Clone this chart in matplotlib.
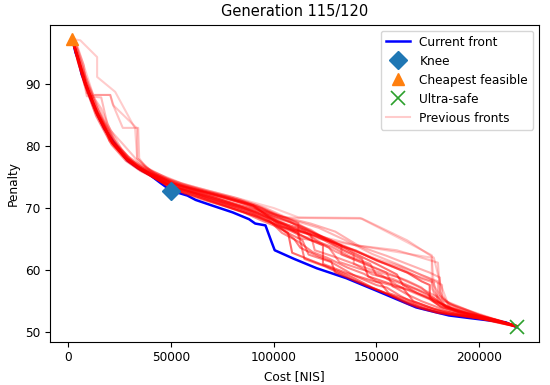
import matplotlib
matplotlib.use("Agg")
import matplotlib.pyplot as plt

# ---------------- data ----------------
current_cost = [1900, 3500, 4900, 6500, 8300, 11000, 14000, 17500, 22000, 28600, 34000, 39800, 45000,
                50000, 58000, 62000, 70000, 80000, 88000, 91000, 96000, 99000, 100500, 110000, 121000,
                135400, 150000, 160000, 169400, 178000, 185400, 195000, 205000, 213000, 218400]
current_pen = [97.2, 95.0, 93.8, 91.5, 90.0, 87.5, 85.2, 82.8, 80.6, 77.7, 76.4, 75.3, 74.0,
               72.8, 72.0, 71.3, 70.4, 69.3, 68.2, 67.5, 67.2, 64.5, 63.2, 61.8, 60.3,
               58.7, 56.7, 55.3, 54.0, 53.3, 52.7, 52.3, 51.9, 51.6, 50.8]

knee_cost, knee_pen = [50000], [72.8]
cheapest_cost, cheapest_pen = [1900], [97.2]
ultra_cost, ultra_pen = [218400], [50.8]

prev_front_01 = [(1900, 97.2), (5800, 97.0), (14000, 94.3), (14000, 91.1), (22800, 88.7), (32500, 82.8),
                 (33500, 78.0), (40000, 76.0), (50000, 74.5), (60000, 73.5), (80000, 71.8), (100000, 70.0),
                 (112000, 68.5), (142000, 68.4), (162000, 65.0), (177000, 62.4), (177000, 57.0),
                 (182000, 55.0), (200000, 52.8), (218400, 50.9)]
prev_front_02 = [(1900, 97.2), (4000, 96.5), (12100, 88.2), (20400, 88.2), (22000, 86.5), (33500, 82.8),
                 (33500, 78.0), (42000, 75.5), (55000, 73.6), (70000, 72.0), (90000, 70.5), (112600, 65.5),
                 (177000, 62.0), (178000, 57.5), (183000, 55.0), (200000, 52.8), (218400, 51.0)]
prev_front_03 = [(1900, 97.2), (4500, 95.5), (8000, 91.5), (12100, 88.2), (20400, 88.2), (21500, 86.8),
                 (26500, 82.9), (34000, 82.9), (34500, 78.0), (38000, 76.4), (50000, 74.0), (65000, 72.5),
                 (85000, 70.8), (105000, 68.5), (113000, 68.4), (143000, 68.3), (165000, 64.8),
                 (178000, 62.0), (181000, 58.0), (185000, 54.5), (205000, 52.2), (218400, 51.0)]
prev_front_04 = [(1900, 97.2), (3000, 97.0), (7500, 93.0), (9000, 88.5), (12000, 88.0), (16000, 86.0),
                 (20500, 82.5), (26000, 80.5), (34000, 77.5), (42000, 75.6), (52000, 74.0), (70000, 72.2),
                 (90000, 70.4), (110000, 66.5), (140000, 64.0), (160000, 63.2), (180000, 61.2),
                 (181000, 56.5), (186000, 54.0), (218400, 51.0)]
prev_front_05 = [(1900, 97.2), (4000, 96.0), (9000, 88.0), (16000, 87.8), (19000, 83.5), (26000, 79.4),
                 (33000, 77.0), (40000, 75.8), (48000, 74.6), (57000, 73.4), (68000, 72.4), (82000, 71.0),
                 (96000, 69.4), (108000, 67.0), (120000, 65.4), (135000, 63.8), (150000, 61.8),
                 (162000, 60.6), (175000, 58.8), (182000, 57.6), (182000, 55.4), (190000, 53.8), (218400, 51.0)]
prev_front_06 = [(1900, 97.2), (6000, 93.6), (10000, 89.6), (17000, 84.4), (24000, 80.0), (31000, 77.6),
                 (38000, 76.3), (46000, 75.2), (55000, 74.0), (68000, 72.8), (82000, 71.6), (96000, 70.0),
                 (108000, 68.2), (122000, 66.8), (135000, 64.8), (148000, 62.6), (160000, 61.0),
                 (172000, 59.2), (180000, 58.2), (180000, 56.0), (184000, 55.0), (200000, 52.8), (218400, 51.0)]
prev_front_07 = [(1900, 97.2), (5500, 93.8), (9500, 89.6), (16000, 84.6), (23500, 80.2), (30000, 77.8),
                 (36000, 76.2), (44000, 75.2), (54000, 73.9), (64000, 73.0), (78000, 71.8), (92000, 70.2),
                 (102000, 68.8), (118000, 67.5), (130000, 66.2), (142000, 63.8), (155000, 62.3),
                 (165000, 61.0), (176000, 59.6), (181000, 58.8), (181000, 56.0), (186000, 54.5),
                 (205000, 52.4), (218400, 51.0)]
prev_front_08 = [(1900, 97.2), (5000, 94.0), (8500, 90.5), (14500, 85.8), (22000, 81.0), (29000, 78.3),
                 (35000, 77.0), (41000, 76.0), (48000, 74.8), (56000, 73.8), (66000, 72.8), (80000, 71.6),
                 (92000, 70.4), (100000, 69.2), (110000, 67.8), (120000, 66.0), (132000, 64.2),
                 (142000, 62.8), (152000, 61.3), (162000, 60.0), (170000, 59.0), (177000, 58.3),
                 (178000, 56.2), (182000, 55.0), (184000, 54.0), (200000, 52.6), (218400, 51.0)]
prev_front_09 = [(1900, 97.2), (4900, 93.8), (8300, 90.0), (14000, 85.2), (21500, 80.6), (28600, 77.9),
                 (34000, 76.6), (40000, 75.5), (50000, 74.0), (60000, 73.0), (72000, 72.0), (85000, 71.0),
                 (95000, 69.8), (105000, 68.0), (118000, 66.5), (130000, 64.0), (140000, 63.2),
                 (150000, 61.5), (162000, 60.3), (172000, 58.6), (178000, 58.0), (180000, 55.0),
                 (190000, 53.2), (205000, 52.2), (218400, 51.0)]
prev_front_10 = [(1900, 97.2), (4500, 94.5), (8000, 90.6), (12500, 86.5), (18000, 83.0), (20000, 80.8),
                 (27000, 78.2), (34000, 76.6), (41000, 75.4), (50000, 74.2), (60000, 73.2), (72000, 72.2),
                 (84000, 71.2), (94000, 70.0), (104000, 68.4), (114000, 66.8), (124000, 65.3),
                 (134000, 63.4), (139000, 62.6), (139000, 61.0), (150000, 59.8), (160000, 58.9),
                 (170000, 57.4), (175000, 56.5), (180000, 55.6), (183000, 54.2), (198000, 52.8), (218400, 51.0)]
prev_front_11 = [(1900, 97.2), (5200, 93.5), (8800, 89.6), (15000, 84.6), (22500, 80.0), (30000, 77.4),
                 (36000, 76.0), (44000, 74.5), (52000, 73.3), (62000, 72.4), (75000, 71.0), (88000, 69.8),
                 (100000, 68.6), (112000, 67.3), (125000, 65.0), (133000, 64.0), (133000, 62.5),
                 (145000, 61.0), (155000, 59.6), (165000, 58.3), (172000, 57.2), (176000, 56.0),
                 (182000, 54.6), (195000, 52.9), (210000, 51.9), (218400, 51.0)]
prev_front_12 = [(1900, 97.2), (4600, 94.2), (7800, 90.4), (13200, 85.6), (20500, 81.0), (27500, 78.2),
                 (33500, 76.8), (40000, 75.6), (47000, 74.6), (54000, 73.6), (63000, 72.6), (74000, 71.4),
                 (84000, 70.4), (96000, 69.4), (106000, 68.4), (112000, 67.6), (112000, 65.2),
                 (122000, 64.6), (130000, 63.0), (140000, 61.6), (147000, 60.6), (155000, 59.6),
                 (158000, 57.4), (166000, 56.8), (174000, 55.8), (180000, 54.8), (190000, 53.4),
                 (208000, 52.0), (218400, 51.0)]
prev_front_13 = [(1900, 97.2), (4300, 94.0), (7600, 90.2), (13000, 85.5), (20000, 81.0), (27000, 78.4),
                 (33000, 76.8), (39000, 75.6), (46000, 74.4), (53000, 73.4), (64000, 72.3), (76000, 71.2),
                 (86000, 70.2), (98000, 69.0), (108000, 67.8), (118000, 65.8), (120000, 63.2),
                 (131000, 62.0), (140000, 60.9), (148000, 59.3), (158000, 58.6), (168000, 57.2),
                 (175000, 56.2), (178000, 55.0), (188000, 53.5), (205000, 52.3), (218400, 51.0)]
prev_front_14 = [(1900, 97.2), (5000, 93.2), (9000, 89.2), (15000, 84.5), (22000, 80.2), (29000, 77.5),
                 (36000, 75.9), (43000, 74.7), (51000, 73.4), (60000, 72.5), (70000, 71.5), (83000, 70.0),
                 (95000, 68.5), (106000, 66.6), (116000, 65.2), (127000, 63.6), (132000, 61.3),
                 (142000, 60.2), (152000, 59.3), (160000, 57.6), (168000, 56.4), (176000, 55.3),
                 (182000, 54.0), (200000, 52.4), (218400, 51.0)]
prev_front_15 = [(1900, 97.2), (4600, 93.6), (8000, 89.8), (13500, 84.8), (21000, 80.2), (28000, 77.6),
                 (35000, 76.0), (42000, 74.8), (50000, 73.5), (58000, 72.8), (68000, 71.6), (80000, 70.4),
                 (92000, 69.3), (104000, 67.4), (115000, 66.2), (122000, 64.5), (128000, 63.8),
                 (137000, 62.2), (147000, 61.0), (150000, 59.2), (160000, 58.1), (170000, 56.8),
                 (178000, 55.5), (184000, 54.0), (200000, 52.5), (218400, 50.9)]
prev_front_16 = [(1900, 97.2), (4700, 93.7), (8100, 90.0), (14000, 85.0), (21500, 80.5), (28600, 77.8),
                 (34500, 76.4), (41000, 75.0), (49000, 73.6), (58000, 72.6), (67000, 71.6), (77000, 70.6),
                 (87000, 69.6), (97000, 68.3), (104000, 66.0), (112000, 64.6), (119000, 62.9),
                 (126000, 62.0), (136000, 60.4), (144000, 59.4), (150000, 58.2), (157000, 57.6),
                 (165000, 56.1), (172000, 55.0), (180000, 54.0), (192000, 52.8), (208000, 52.0), (218400, 50.9)]
prev_front_17 = [(1900, 97.2), (4900, 93.8), (8300, 90.0), (14000, 85.2), (21500, 80.5), (28600, 77.8),
                 (34000, 76.5), (40000, 75.4), (50000, 73.6), (56000, 72.4), (66000, 71.3), (76000, 70.3),
                 (86000, 69.2), (94000, 68.0), (100000, 67.2), (108000, 65.8), (114000, 64.8),
                 (117000, 62.5), (128000, 61.3), (140000, 59.0), (150000, 57.6), (155000, 57.2),
                 (162000, 55.8), (170000, 54.4), (178000, 53.6), (190000, 52.9), (205000, 52.1), (218400, 50.9)]
prev_front_18 = [(1900, 97.2), (4900, 93.8), (8300, 90.0), (14000, 85.2), (21500, 80.4), (28600, 77.7),
                 (34000, 76.4), (40000, 75.2), (47000, 73.8), (55000, 72.6), (65000, 71.6), (78000, 70.2),
                 (90000, 68.8), (102000, 67.2), (112000, 66.0), (115000, 61.8), (125000, 60.6),
                 (135000, 59.0), (145000, 57.5), (155000, 56.2), (165000, 54.6), (172000, 53.8),
                 (180000, 53.1), (195000, 52.4), (210000, 51.8), (218400, 50.9)]
prev_front_19 = [(1900, 97.2), (4900, 93.8), (8300, 90.0), (14000, 85.2), (21500, 80.5), (28600, 77.8),
                 (34000, 76.5), (40000, 75.3), (50000, 73.4), (60000, 72.4), (70000, 71.2), (80000, 70.1),
                 (90000, 69.0), (98000, 67.8), (104000, 66.6), (110000, 65.0), (113000, 63.6),
                 (122000, 62.2), (128000, 61.4), (130000, 59.6), (140000, 58.2), (150000, 56.9),
                 (160000, 55.6), (166000, 54.8), (172000, 54.0), (180000, 53.2), (195000, 52.5),
                 (210000, 51.8), (218400, 50.9)]
prev_front_20 = [(1900, 97.2), (4700, 93.9), (8200, 90.1), (13800, 85.4), (21000, 80.7), (28000, 78.0),
                 (34000, 76.6), (40000, 75.5), (48000, 74.0), (58000, 72.8), (70000, 71.6), (84000, 70.2),
                 (96000, 68.6), (106000, 67.0), (118000, 64.8), (124000, 64.0), (124000, 61.0),
                 (135000, 59.6), (145000, 58.6), (152000, 57.9), (156000, 56.3), (165000, 55.3),
                 (175000, 54.1), (185000, 53.0), (200000, 52.3), (218400, 50.9)]
prev_front_21 = [(1900, 97.2), (4800, 93.8), (8300, 90.0), (14000, 85.3), (21500, 80.6), (28600, 77.9),
                 (34000, 76.6), (40000, 75.4), (50000, 73.8), (60000, 72.8), (72000, 71.6), (86000, 70.0),
                 (100000, 68.2), (110000, 66.6), (120000, 65.6), (135000, 63.0), (143000, 61.8),
                 (146000, 59.0), (155000, 58.0), (163000, 57.1), (168000, 55.0), (178000, 53.8),
                 (190000, 52.9), (218400, 50.9)]
prev_front_22 = [(1900, 97.2), (4900, 93.9), (8400, 90.2), (14200, 85.5), (21800, 80.8), (29000, 78.0),
                 (35000, 76.7), (42000, 75.4), (52000, 73.8), (62000, 72.9), (75000, 71.8), (90000, 70.2),
                 (102000, 67.8), (116000, 66.4), (128000, 64.8), (140000, 62.6), (150000, 61.0),
                 (160000, 59.3), (163000, 57.6), (170000, 56.3), (176000, 55.4), (181000, 54.2),
                 (195000, 52.7), (218400, 51.0)]
prev_front_23 = [(1900, 97.2), (4900, 93.8), (8300, 90.0), (14000, 85.2), (21500, 80.5), (28600, 77.8),
                 (34000, 76.4), (40000, 75.3), (50000, 73.2), (58000, 72.4), (68000, 71.2), (80000, 69.9),
                 (92000, 68.6), (100000, 67.5), (107000, 66.0), (109000, 62.8), (118000, 61.6),
                 (128000, 60.3), (138000, 58.9), (148000, 57.2), (158000, 55.8), (165000, 54.8),
                 (170000, 54.1), (180000, 53.2), (200000, 52.3), (218400, 50.9)]
prev_front_24 = [(1900, 97.2), (4800, 93.9), (8200, 90.1), (14000, 85.3), (21500, 80.6), (28600, 77.9),
                 (34000, 76.6), (41000, 75.4), (50000, 74.0), (62000, 73.0), (76000, 71.8), (90000, 70.4),
                 (104000, 67.0), (122000, 65.3), (138000, 63.3), (151000, 61.5), (165000, 59.6),
                 (172000, 58.2), (176000, 57.6), (176000, 55.6), (182000, 54.5), (190000, 53.3),
                 (218400, 51.0)]

previous_fronts = [prev_front_01, prev_front_02, prev_front_03, prev_front_04, prev_front_05,
                   prev_front_06, prev_front_07, prev_front_08, prev_front_09, prev_front_10,
                   prev_front_11, prev_front_12, prev_front_13, prev_front_14, prev_front_15,
                   prev_front_16, prev_front_17, prev_front_18, prev_front_19, prev_front_20,
                   prev_front_21, prev_front_22, prev_front_23, prev_front_24]

# ---------------- plot ----------------
fig = plt.figure(figsize=(5.5, 3.85), dpi=100)
ax = fig.add_axes([0.091, 0.1125, 0.889, 0.8235])

ax.plot(current_cost, current_pen, color="blue", lw=1.8, label="Current front", zorder=2)
ax.plot(knee_cost, knee_pen, "D", color="C0", markersize=9, label="Knee", zorder=5, linestyle="none")
ax.plot(cheapest_cost, cheapest_pen, "^", color="C1", markersize=8, label="Cheapest feasible", zorder=5,
        linestyle="none")
ax.plot(ultra_cost, ultra_pen, "x", color="C2", markersize=10, mew=1.2, label="Ultra-safe", zorder=5,
        linestyle="none")

n = len(previous_fronts)
for i, front in enumerate(previous_fronts):
    xs = [p[0] for p in front]
    ys = [p[1] for p in front]
    alpha = 0.2 + 0.4 * i / (n - 1)
    ax.plot(xs, ys, color="red", lw=1.5, alpha=alpha,
            label="Previous fronts" if i == 0 else None, zorder=3)

ax.set_title("Generation 115/120", fontsize=10.5)
ax.set_xlabel("Cost [NIS]", fontsize=8.7)
ax.set_ylabel("Penalty", fontsize=8.7)
ax.tick_params(labelsize=8.7)
ax.legend(loc="upper right", fontsize=8.7)

fig.savefig("out.png", dpi=100)
